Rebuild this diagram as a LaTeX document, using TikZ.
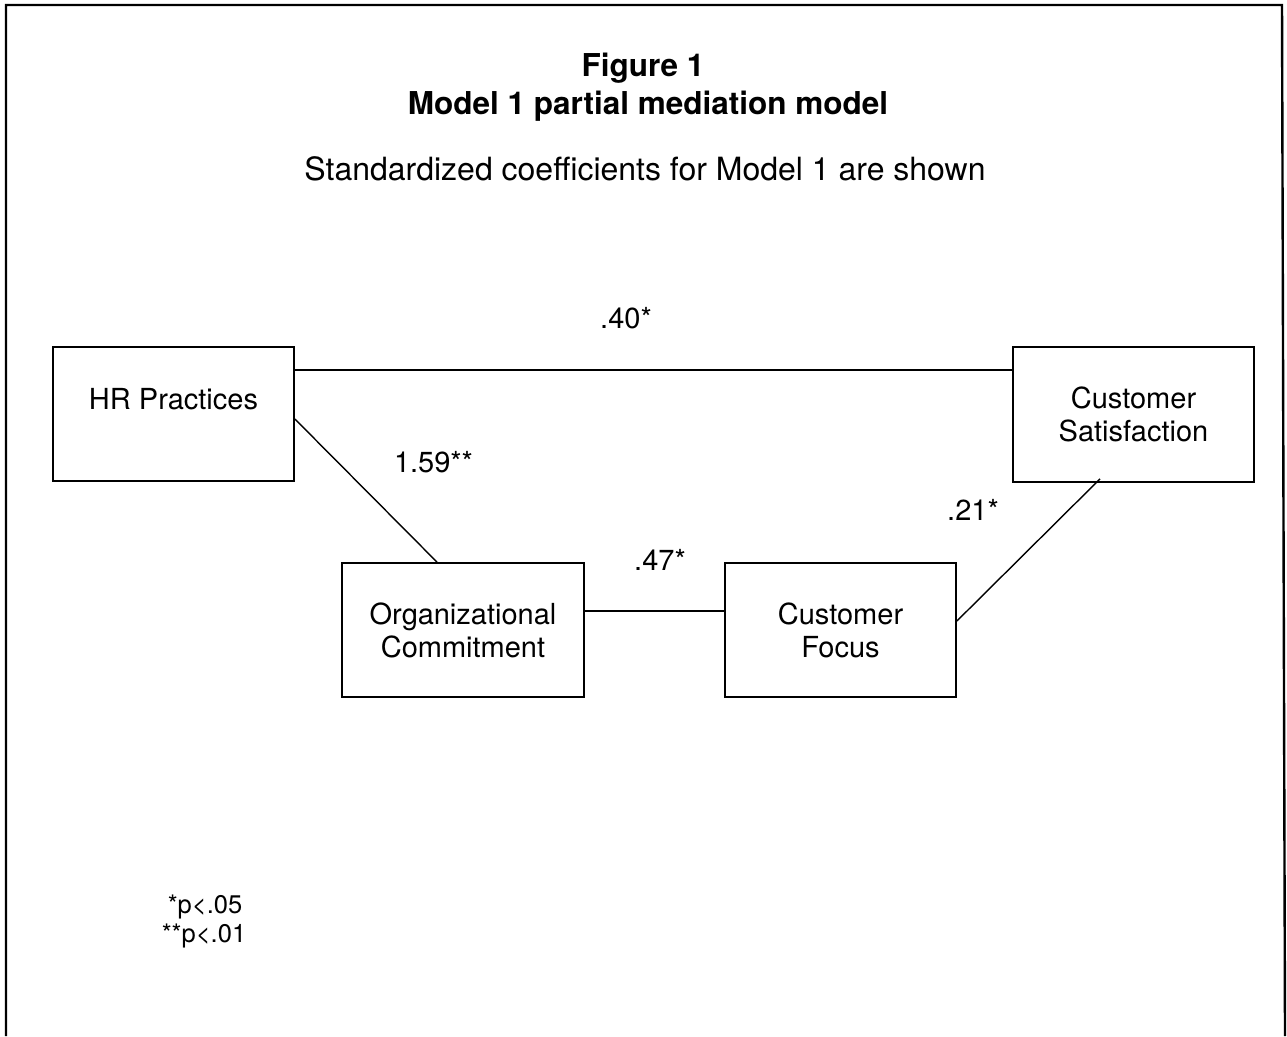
\documentclass[tikz,border=0pt]{standalone}
\usepackage{fontspec}
\setmainfont{TeX Gyre Heros}
\begin{document}
\begin{tikzpicture}[x=1pt,y=-1pt,
  frame/.style={line width=2.4pt},
  box/.style={draw, line width=1.8pt, rectangle, inner sep=0pt, align=center,
    minimum height=134pt, font=\fontsize{29}{33}\selectfont},
  conn/.style={line width=1.4pt},
  coef/.style={anchor=base, inner sep=0pt, font=\fontsize{29}{33}\selectfont},
  ttl/.style={anchor=base, inner sep=0pt, font=\bfseries\fontsize{31.5}{38}\selectfont},
  note/.style={anchor=base, inner sep=0pt, font=\fontsize{25.5}{29}\selectfont}]
\useasboundingbox (0,0) rectangle (1287,1036);
\draw[frame] (6,1036) -- (6,5) -- (1282,5) -- (1285,1036);

\node[ttl] (t1) at (643,76) {Figure 1};
\node[ttl] (t2) at (648,114) {Model 1 partial mediation model};
\node[anchor=base, inner sep=0pt, font=\fontsize{32}{38}\selectfont] (sub) at (645,180) {Standardized coefficients for Model 1 are shown};

\node[box, minimum width=241pt, text height=21pt, text depth=31pt] (hr) at (173.5,414) {HR Practices};
\node[box, minimum width=241pt, minimum height=135pt] (cs) at (1133.5,414.5) {Customer\\Satisfaction};
\node[box, minimum width=242pt] (org) at (463,630) {Organizational\\Commitment};
\node[box, minimum width=231pt] (cf) at (840.5,630) {Customer\\Focus};

\draw[conn, line width=1.7pt] ([yshift=-24pt]hr.north east) -- ([yshift=-24pt]cs.north west);
\draw[conn] ([yshift=-5pt]hr.east) -- ([xshift=-26pt]org.north);
\draw[conn] ([yshift=19pt]org.east) -- ([yshift=19pt]cf.west);
\draw[conn] ([yshift=9pt]cf.east) -- ([xshift=-33.5pt,yshift=4pt]cs.south);

\node[coef] (c40) at (626,328) {.40*};
\node[coef] (c159) at (433.5,472) {1.59**};
\node[coef] (c47) at (660,570) {.47*};
\node[coef] (c21) at (973,520) {.21*};

\node[note] (n1) at (205,913) {*p<.05};
\node[note] (n2) at (204,942) {**p<.01};
\end{tikzpicture}
\end{document}
